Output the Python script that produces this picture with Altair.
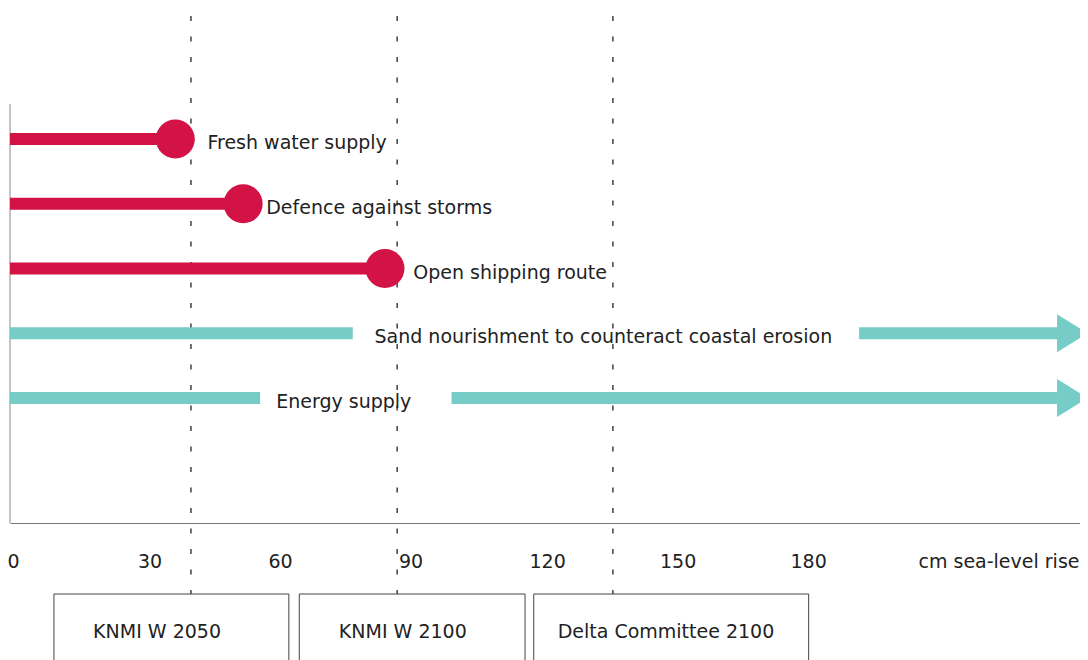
import altair as alt
import pandas as pd

# ---- data ----
items = ["Fresh water supply", "Defence against storms", "Open shipping route",
         "Sand nourishment to counteract coastal erosion", "Energy supply"]
red_items = items[:3]
red_limit_cm = [38.0, 53.6, 86.2]          # sea-level rise where the function ends
label_cm = [45.4, 58.9, 92.7, 83.8, 61.2]  # where each label starts

teal_item = [items[3], items[3], items[4], items[4]]
teal_start_cm = [0.0, 195.2, 0.0, 101.5]
teal_end_cm = [78.8, 240.7, 57.5, 240.7]
arrow_items = items[3:]
arrow_cm = [240.7, 240.7]

scenario_names = ["KNMI W 2050", "KNMI W 2100", "Delta Committee 2100"]
scenario_cm = [41.6, 89.0, 138.6]
box_start_cm = [10.1, 66.5, 120.4]
box_end_cm = [64.1, 118.4, 183.6]
box_label_cm = [33.8, 90.3, 150.8]

tick_values = [0, 30, 60, 90, 120, 150, 180]
x_domain = [0, 245.98]

RED = "#d31245"
TEAL = "#76ccc7"
FONT = "DejaVu Sans"
TXT = "#222222"
FS = 19

red_df = pd.DataFrame({"item": red_items, "start": [0.0] * 3, "end": red_limit_cm})
teal_df = pd.DataFrame({"item": teal_item, "start": teal_start_cm, "end": teal_end_cm})
arrow_df = pd.DataFrame({"item": arrow_items, "x": arrow_cm})
label_df = pd.DataFrame({"item": items, "x": label_cm})
scen_df = pd.DataFrame({"name": scenario_names, "x": scenario_cm,
                        "b0": box_start_cm, "b1": box_end_cm, "lx": box_label_cm})

xscale = alt.Scale(domain=x_domain, nice=False, zero=False)
yscale = alt.Scale(type="point", domain=items, range=[35, 294], padding=0)

x_axis = alt.Axis(values=tick_values, grid=False, ticks=False, tickSize=0,
                  domainColor="#777777", domainWidth=1,
                  labelFont=FONT, labelFontSize=FS, labelColor=TXT,
                  labelAlign="left", labelBaseline="alphabetic", labelPadding=44,
                  labelOffset=-3, labelFlush=False, labelOverlap=False,
                  title="cm sea-level rise", titleFont=FONT, titleFontSize=FS,
                  titleFontWeight="normal", titleColor=TXT, titleAlign="left",
                  titleBaseline="alphabetic", titleX=908, titleY=44, titleAngle=0)


def X(field):
    return alt.X(field, scale=xscale, axis=x_axis)


def Y():
    return alt.Y("item:N", scale=yscale, axis=None)


# vertical axis line at 0 cm, full plot height
y_line = alt.Chart(pd.DataFrame({"x": [0.0]})).mark_rule(
    color="#888888", strokeWidth=1).encode(
    x=X("x:Q"), y=alt.value(0), y2=alt.value(419),
)
red_bars = alt.Chart(red_df).mark_rule(strokeWidth=12, color=RED).encode(
    x=X("start:Q"), x2="end:Q", y=Y(),
)
red_dots = alt.Chart(red_df).mark_circle(size=1521, opacity=1, color=RED).encode(
    x=X("end:Q"), y=Y(),
)
teal_bars = alt.Chart(teal_df).mark_rule(strokeWidth=12, color=TEAL).encode(
    x=X("start:Q"), x2="end:Q", y=Y(),
)
arrows = alt.Chart(arrow_df).mark_point(
    shape="M0,-1L1.6,0L0,1Z", size=1444, filled=True, opacity=1,
    color=TEAL, strokeWidth=0).encode(
    x=X("x:Q"), y=Y(),
)
labels = alt.Chart(label_df).mark_text(
    align="left", baseline="alphabetic", dy=10, font=FONT, fontSize=FS, color=TXT).encode(
    x=X("x:Q"), y=Y(), text="item:N",
)
scen_rules = alt.Chart(scen_df).mark_rule(
    color="#222222", strokeWidth=1.3, strokeDash=[5, 15.5]).encode(
    x=X("x:Q"), y=alt.value(-88), y2=alt.value(490),
)
boxes = alt.Chart(scen_df).mark_rect(fill="white", stroke="#444444", strokeWidth=1).encode(
    x=X("b0:Q"), x2="b1:Q", y=alt.value(490), y2=alt.value(580),
)
box_text = alt.Chart(scen_df).mark_text(
    align="center", baseline="alphabetic", font=FONT, fontSize=FS, color=TXT).encode(
    x=X("lx:Q"), y=alt.value(534), text="name:N",
)

chart = alt.layer(
    y_line, scen_rules, red_bars, teal_bars, red_dots, arrows, labels, boxes, box_text
).properties(
    width=1070, height=419,
    padding={"left": 2, "top": 96, "right": 0, "bottom": 137},
    autosize=alt.AutoSizeParams(type="none"),
    background="white",
).configure_view(stroke=None)

chart.save("out.html", embed_options={"renderer": "svg", "actions": False})
